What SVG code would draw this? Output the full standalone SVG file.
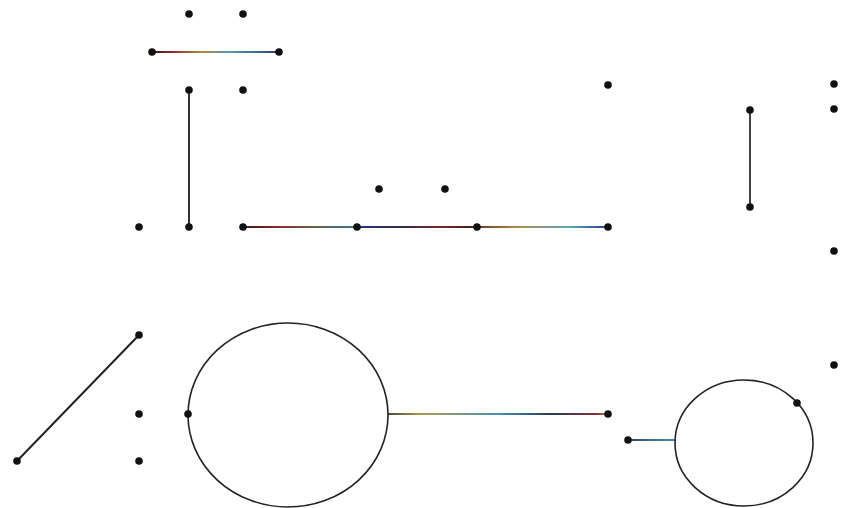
<svg xmlns="http://www.w3.org/2000/svg" width="842" height="508" viewBox="0 0 842 508">
<style>
.d{fill:#111}
.l{stroke-width:2;fill:none}
.c{fill:none;stroke:#222;stroke-width:1.6}
</style>
<defs>
<linearGradient id="g1" gradientUnits="userSpaceOnUse" x1="152" y1="0" x2="279" y2="0">
<stop offset="0" stop-color="#2a1a1a"/><stop offset="0.15" stop-color="#8a2a2a"/><stop offset="0.4" stop-color="#b08a40"/><stop offset="0.6" stop-color="#5a98b0"/><stop offset="1" stop-color="#2a4070"/>
</linearGradient>
<linearGradient id="g2" gradientUnits="userSpaceOnUse" x1="243" y1="0" x2="357" y2="0">
<stop offset="0" stop-color="#3a1818"/><stop offset="0.3" stop-color="#8a2a2a"/><stop offset="0.6" stop-color="#6a6040"/><stop offset="1" stop-color="#3a7890"/>
</linearGradient>
<linearGradient id="g3" gradientUnits="userSpaceOnUse" x1="357" y1="0" x2="477" y2="0">
<stop offset="0" stop-color="#223a7a"/><stop offset="0.4" stop-color="#3a2a4a"/><stop offset="0.7" stop-color="#7a2a2a"/><stop offset="1" stop-color="#3a1a1a"/>
</linearGradient>
<linearGradient id="g4" gradientUnits="userSpaceOnUse" x1="477" y1="0" x2="608" y2="0">
<stop offset="0" stop-color="#6a3a2a"/><stop offset="0.3" stop-color="#b08a48"/><stop offset="0.7" stop-color="#5aa8c0"/><stop offset="1" stop-color="#2a4080"/>
</linearGradient>
<linearGradient id="g5" gradientUnits="userSpaceOnUse" x1="388" y1="0" x2="608" y2="0">
<stop offset="0" stop-color="#4a4a3a"/><stop offset="0.15" stop-color="#b09a50"/><stop offset="0.5" stop-color="#4a90b0"/><stop offset="0.75" stop-color="#2a3a5a"/><stop offset="0.95" stop-color="#8a3030"/><stop offset="1" stop-color="#b08a50"/>
</linearGradient>
<linearGradient id="g6" gradientUnits="userSpaceOnUse" x1="628" y1="0" x2="675" y2="0">
<stop offset="0" stop-color="#2a3a5a"/><stop offset="0.5" stop-color="#3a70a0"/><stop offset="1" stop-color="#4a8ab0"/>
</linearGradient>
</defs>
<g id="connectors">
<line class="l" x1="152" y1="52" x2="279" y2="52" stroke="url(#g1)"/>
<line class="l" x1="189" y1="90" x2="189" y2="227" stroke="#333"/>
<line class="l" x1="243" y1="227" x2="357" y2="227" stroke="url(#g2)"/>
<line class="l" x1="357" y1="227" x2="477" y2="227" stroke="url(#g3)"/>
<line class="l" x1="477" y1="227" x2="608" y2="227" stroke="url(#g4)"/>
<line class="l" x1="750" y1="110" x2="750" y2="207" stroke="#444"/>
<line class="l" x1="139" y1="335" x2="17" y2="461" stroke="#222"/>
<line class="l" x1="388" y1="414" x2="608" y2="414" stroke="url(#g5)"/>
<line class="l" x1="628" y1="440" x2="675" y2="440" stroke="url(#g6)"/>
</g>
<g id="circle1"><ellipse class="c" cx="288" cy="415" rx="100" ry="92"/></g>
<g id="circle2"><ellipse class="c" cx="744" cy="443" rx="69" ry="63"/></g>
<g id="n1"><circle class="d" cx="189" cy="14" r="3.8"/></g>
<g id="n2"><circle class="d" cx="243" cy="14" r="3.8"/></g>
<g id="n3"><circle class="d" cx="152" cy="52" r="3.8"/></g>
<g id="n4"><circle class="d" cx="279" cy="52" r="3.8"/></g>
<g id="n5"><circle class="d" cx="189" cy="90" r="3.8"/></g>
<g id="n6"><circle class="d" cx="243" cy="90" r="3.8"/></g>
<g id="n7"><circle class="d" cx="608" cy="85" r="3.8"/></g>
<g id="n8"><circle class="d" cx="834" cy="84" r="3.8"/></g>
<g id="n9"><circle class="d" cx="834" cy="109" r="3.8"/></g>
<g id="n10"><circle class="d" cx="750" cy="110" r="3.8"/></g>
<g id="n11"><circle class="d" cx="750" cy="207" r="3.8"/></g>
<g id="n12"><circle class="d" cx="379" cy="189" r="3.8"/></g>
<g id="n13"><circle class="d" cx="445" cy="189" r="3.8"/></g>
<g id="n14"><circle class="d" cx="139" cy="227" r="3.8"/></g>
<g id="n15"><circle class="d" cx="189" cy="227" r="3.8"/></g>
<g id="n16"><circle class="d" cx="243" cy="227" r="3.8"/></g>
<g id="n17"><circle class="d" cx="357" cy="227" r="3.8"/></g>
<g id="n18"><circle class="d" cx="477" cy="227" r="3.8"/></g>
<g id="n19"><circle class="d" cx="608" cy="227" r="3.8"/></g>
<g id="n20"><circle class="d" cx="834" cy="251" r="3.8"/></g>
<g id="n21"><circle class="d" cx="834" cy="365" r="3.8"/></g>
<g id="n22"><circle class="d" cx="139" cy="335" r="3.8"/></g>
<g id="n23"><circle class="d" cx="17" cy="461" r="3.8"/></g>
<g id="n24"><circle class="d" cx="139" cy="414" r="3.8"/></g>
<g id="n25"><circle class="d" cx="139" cy="461" r="3.8"/></g>
<g id="n26"><circle class="d" cx="188" cy="414" r="3.8"/></g>
<g id="n27"><circle class="d" cx="608" cy="414" r="3.8"/></g>
<g id="n28"><circle class="d" cx="628" cy="440" r="3.8"/></g>
<g id="n29"><circle class="d" cx="797" cy="403" r="3.8"/></g>
</svg>
